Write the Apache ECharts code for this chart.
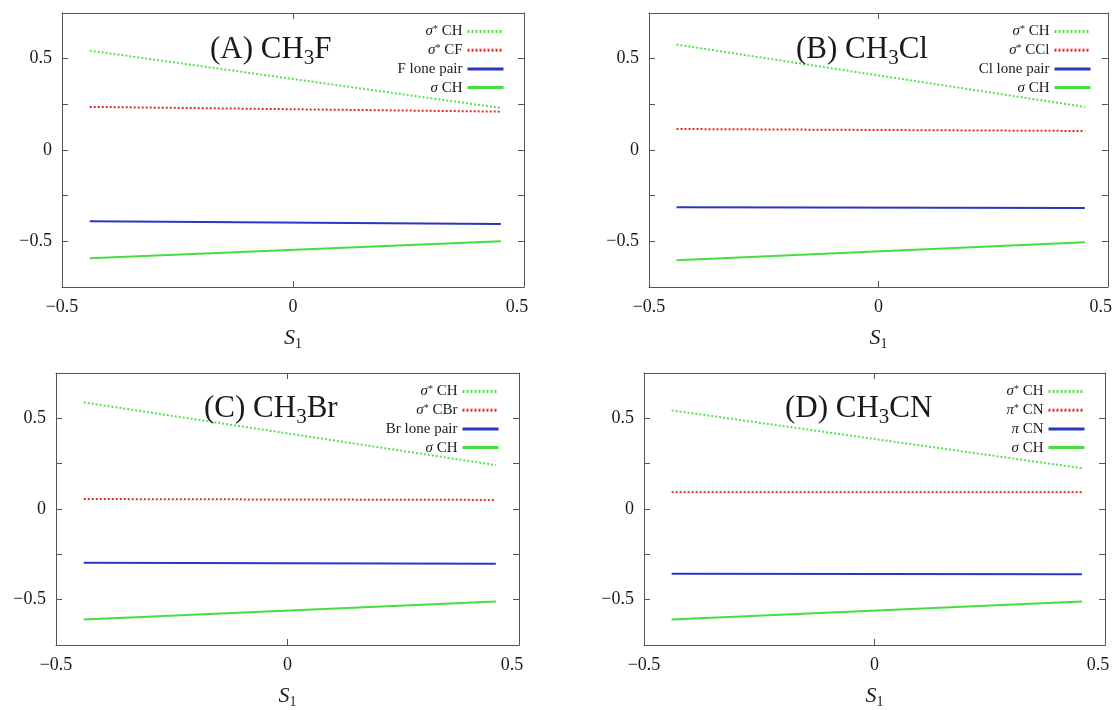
<!DOCTYPE html>
<html>
<head>
<meta charset="utf-8">
<script src="https://cdn.jsdelivr.net/npm/echarts@6/dist/echarts.min.js"></script>
<style>html,body{margin:0;padding:0;background:#fff;}#c{width:1115px;height:710px;}</style>
</head>
<body>
<div id="c"></div>
<script>
// x positions of the line end points (S1)
const xEnds = [-0.44, 0.45];

// Panel A: CH3F
const aSigmaStarCH = [0.544, 0.230];
const aSigmaStarCX = [0.236, 0.210];
const aLonePair    = [-0.390, -0.405];
const aSigmaCH     = [-0.593, -0.500];
// Panel B: CH3Cl
const bSigmaStarCH = [0.577, 0.236];
const bSigmaStarCX = [0.115, 0.104];
const bLonePair    = [-0.313, -0.318];
const bSigmaCH     = [-0.604, -0.505];
// Panel C: CH3Br
const cSigmaStarCH = [0.588, 0.242];
const cSigmaStarCX = [0.055, 0.050];
const cLonePair    = [-0.297, -0.302];
const cSigmaCH     = [-0.610, -0.510];
// Panel D: CH3CN
const dSigmaStarCH = [0.544, 0.225];
const dSigmaStarCX = [0.093, 0.093];
const dLonePair    = [-0.357, -0.360];
const dSigmaCH     = [-0.610, -0.510];

const legendA = ['σ* CH', 'σ* CF', 'F lone pair', 'σ CH'];
const legendB = ['σ* CH', 'σ* CCl', 'Cl lone pair', 'σ CH'];
const legendC = ['σ* CH', 'σ* CBr', 'Br lone pair', 'σ CH'];
const legendD = ['σ* CH', 'π* CN', 'π CN', 'σ CH'];

const titleA = '(A) CH{sub|3}F';
const titleB = '(B) CH{sub|3}Cl';
const titleC = '(C) CH{sub|3}Br';
const titleD = '(D) CH{sub|3}CN';

const xTicks = [-0.5, 0, 0.5];
const yTicks = [-0.5, 0, 0.5];

const FONT = 'Liberation Serif';
const lineColors = ['#55e04f', '#e62a26', '#2b35c2', '#45e040'];
const lineTypes = [[2, 2], [2, 2], 'solid', 'solid'];

const panels = [
  {key: 'A', title: titleA, legend: legendA, vals: [aSigmaStarCH, aSigmaStarCX, aLonePair, aSigmaCH],
   grid: {left: 62, top: 13, width: 462, height: 274}, titlePos: {left: 205, top: 26}, legendPos: {right: 605, top: 19}},
  {key: 'B', title: titleB, legend: legendB, vals: [bSigmaStarCH, bSigmaStarCX, bLonePair, bSigmaCH],
   grid: {left: 649, top: 13, width: 460, height: 274}, titlePos: {left: 791, top: 26}, legendPos: {right: 18, top: 19}},
  {key: 'C', title: titleC, legend: legendC, vals: [cSigmaStarCH, cSigmaStarCX, cLonePair, cSigmaCH],
   grid: {left: 56, top: 373, width: 463, height: 275}, titlePos: {left: 199, top: 385}, legendPos: {right: 610, top: 379}},
  {key: 'D', title: titleD, legend: legendD, vals: [dSigmaStarCH, dSigmaStarCX, dLonePair, dSigmaCH],
   grid: {left: 644, top: 373, width: 461, height: 275}, titlePos: {left: 780, top: 385}, legendPos: {right: 24, top: 379}}
];

function fmtNum(v) {
  if (Math.abs(v) < 1e-9) return '0';
  return v < 0 ? '\u2212' + (-v) : String(v);
}
function yLabel(v) {
  const hit = yTicks.some(t => Math.abs(t - v) < 1e-6);
  return hit ? fmtNum(v) : '';
}
function xLabel(v) {
  if (!xTicks.some(t => Math.abs(t - v) < 1e-6)) return '';
  if (v > 0.4) return '{r|' + fmtNum(v) + '}';
  return fmtNum(v);
}
function legendFmt(name) {
  const label = name.split('|')[1];
  return label.replace(/([σπ])\*/g, '{i|$1}{sup|*}').replace(/([σπ]) /g, '{i|$1} ');
}

const axisColor = '#555';
const option = {
  animation: false,
  backgroundColor: '#fff',
  grid: [], xAxis: [], yAxis: [], series: [], legend: [], title: []
};

panels.forEach((p, gi) => {
  option.grid.push(Object.assign({containLabel: false}, p.grid));
  const common = {
    gridIndex: gi,
    axisLine: {show: true, onZero: false, lineStyle: {color: axisColor, width: 1}},
    axisTick: {show: true, inside: true, length: 6, lineStyle: {color: axisColor}},
    splitLine: {show: false}
  };
  option.xAxis.push(Object.assign({}, common, {
    type: 'value', position: 'bottom', min: -0.5, max: 0.5, interval: 0.5,
    axisLabel: {show: true, margin: 11, fontFamily: FONT, fontSize: 18, color: '#1a1a1a',
      formatter: xLabel, showMinLabel: true, showMaxLabel: true,
      rich: {r: {fontFamily: FONT, fontSize: 18, color: '#1a1a1a', padding: [0, 14, 0, 0]}}},
    name: '{s|S}{sub|1}', nameLocation: 'middle', nameGap: 38,
    nameTextStyle: {rich: {
      s: {fontFamily: FONT, fontStyle: 'italic', fontSize: 22, color: '#1a1a1a', lineHeight: 26, verticalAlign: 'middle'},
      sub: {fontFamily: FONT, fontSize: 14, color: '#1a1a1a', verticalAlign: 'bottom', lineHeight: 16}
    }}
  }));
  option.xAxis.push(Object.assign({}, common, {
    type: 'value', position: 'top', min: -0.5, max: 0.5, interval: 0.5,
    axisLabel: {show: false}
  }));
  option.yAxis.push(Object.assign({}, common, {
    type: 'value', position: 'left', min: -0.75, max: 0.75, interval: 0.25,
    axisLabel: {show: true, margin: 10, fontFamily: FONT, fontSize: 18, color: '#1a1a1a', formatter: yLabel}
  }));
  option.yAxis.push(Object.assign({}, common, {
    type: 'value', position: 'right', min: -0.75, max: 0.75, interval: 0.25,
    axisLabel: {show: false}
  }));

  const names = p.legend.map(l => p.key + '|' + l);
  p.vals.forEach((vals, si) => {
    option.series.push({
      type: 'line', name: names[si], xAxisIndex: gi * 2, yAxisIndex: gi * 2,
      data: xEnds.map((x, k) => [x, vals[k]]),
      showSymbol: false, symbol: 'none',
      lineStyle: {color: lineColors[si], width: 2, type: lineTypes[si]},
      itemStyle: {color: lineColors[si]},
      z: 3
    });
  });

  option.legend.push(Object.assign({
    data: names, orient: 'vertical', align: 'right',
    itemWidth: 36, itemHeight: 14, itemGap: 3.7,
    selectedMode: false,
    itemStyle: {opacity: 0},
    lineStyle: {width: 3},
    formatter: legendFmt,
    textStyle: {fontFamily: FONT, fontSize: 15, color: '#1a1a1a', lineHeight: 14,
      rich: {
        i: {fontFamily: FONT, fontStyle: 'italic', fontSize: 15, color: '#1a1a1a'},
        sup: {fontFamily: FONT, fontSize: 10, color: '#1a1a1a', verticalAlign: 'top', lineHeight: 14}
      }}
  }, p.legendPos));

  option.title.push(Object.assign({
    text: p.title,
    textStyle: {fontFamily: FONT, fontSize: 31, fontWeight: 'normal', color: '#1a1a1a', lineHeight: 38,
      rich: {sub: {fontFamily: FONT, fontSize: 21, color: '#1a1a1a', verticalAlign: 'bottom', lineHeight: 22}}}
  }, p.titlePos));
});

const chart = echarts.init(document.getElementById('c'), null, {renderer: 'canvas'});
chart.setOption(option);
</script>
</body>
</html>
